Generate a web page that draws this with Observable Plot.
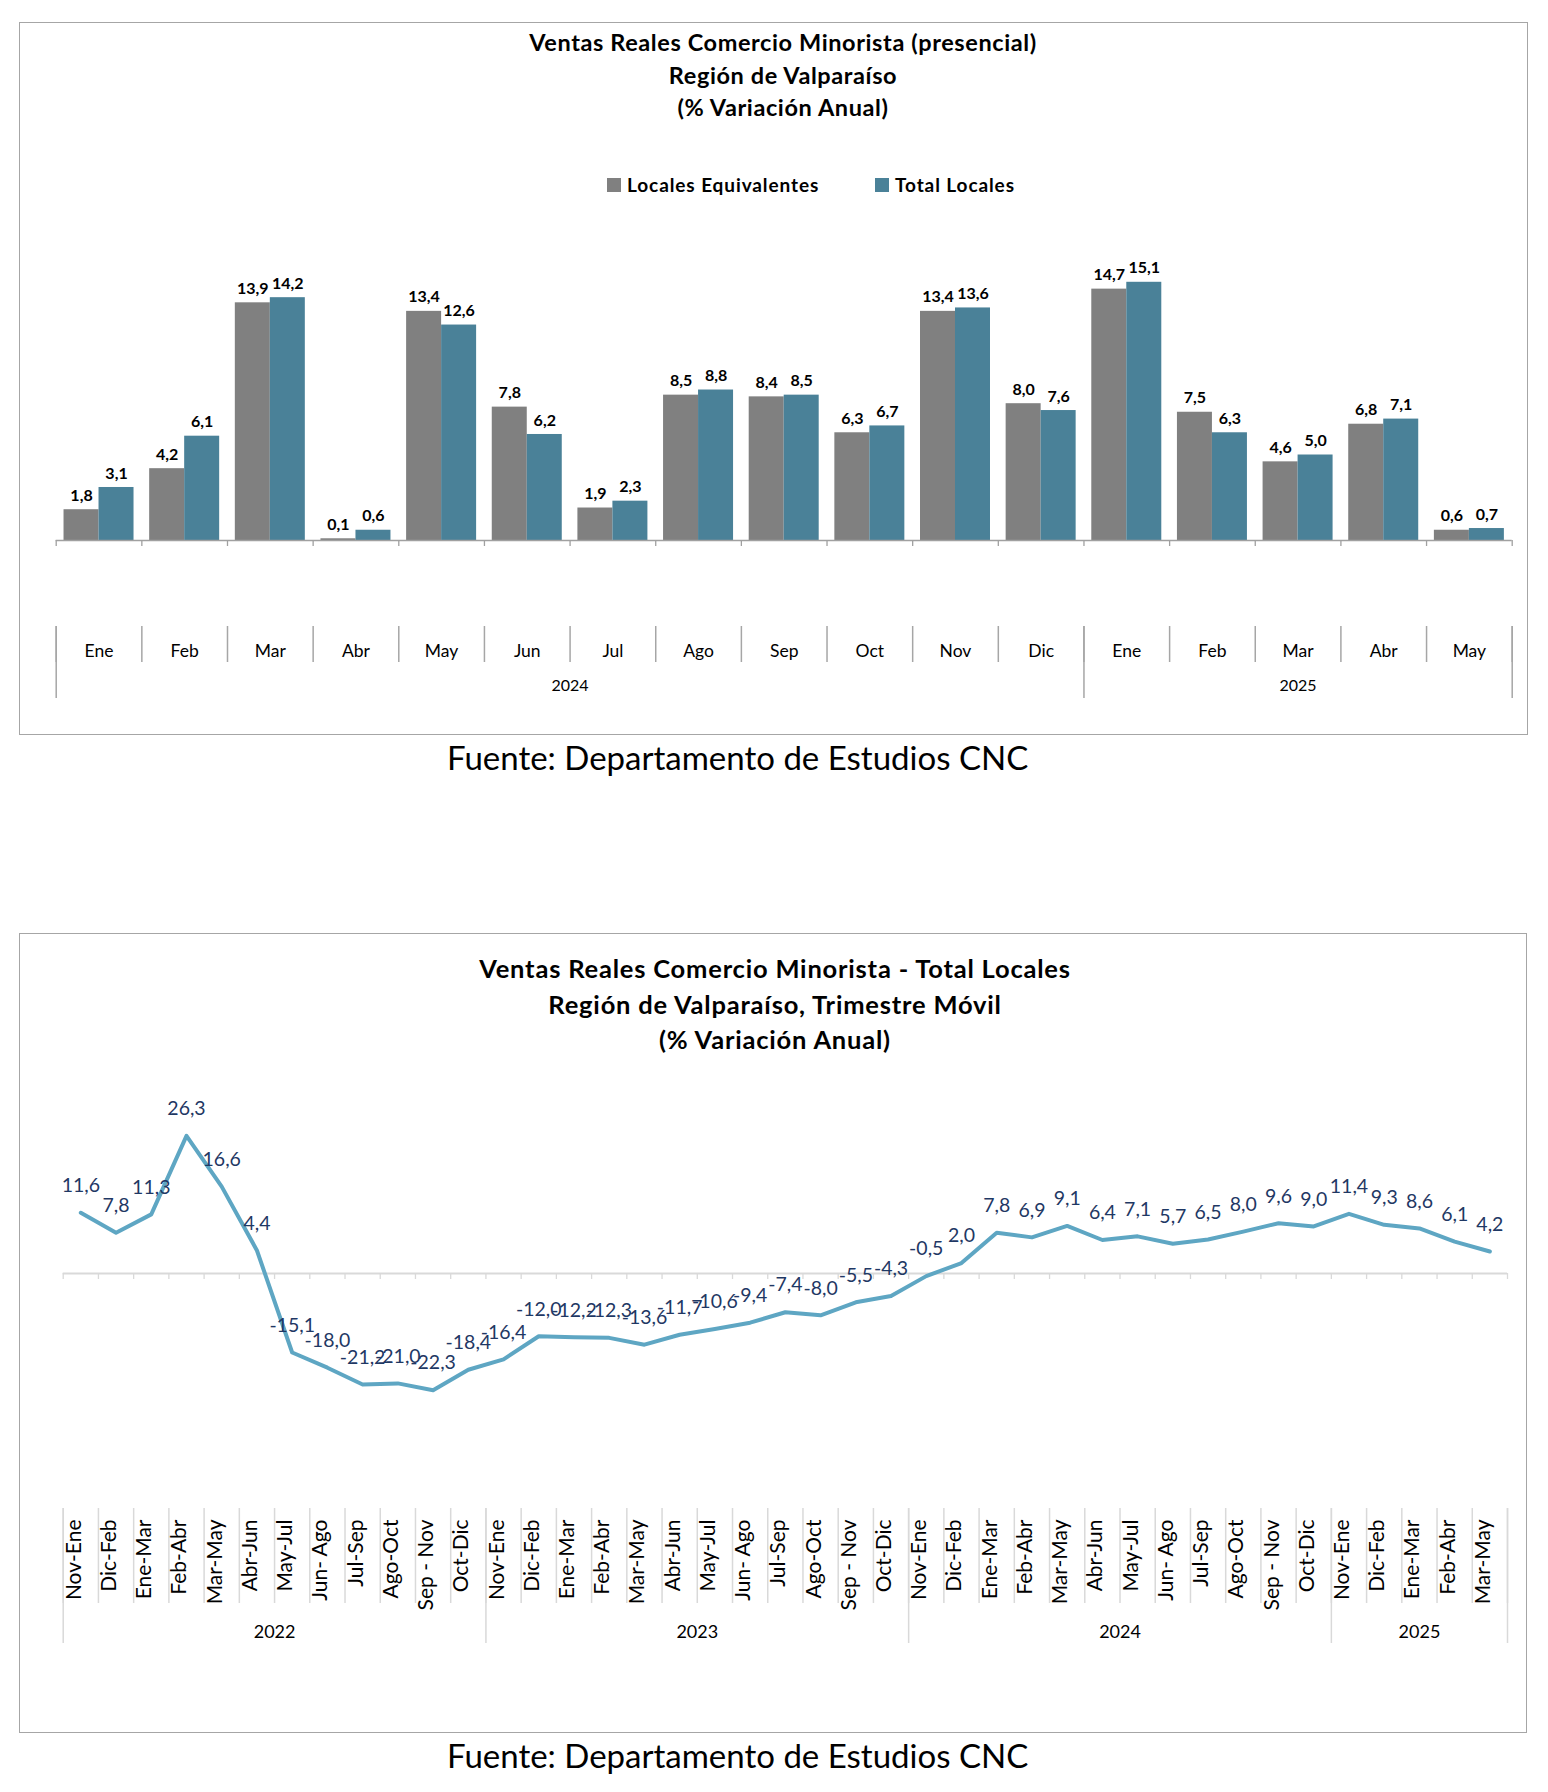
<!DOCTYPE html>
<html>
<head>
<meta charset="utf-8">
<script src="https://cdn.jsdelivr.net/npm/d3@7"></script>
<script src="https://cdn.jsdelivr.net/npm/@observablehq/plot@0.6"></script>
<style>
  body { margin: 0; background: #fff; font-family: Lato, "Open Sans", sans-serif; }
  #page { position: relative; width: 1548px; height: 1792px; overflow: hidden; }
  .box { position: absolute; border: 1.5px solid #a6a6a6; box-sizing: border-box; }
  .title { position: absolute; text-align: center; font-weight: bold; color: #000; white-space: nowrap; }
  .legend-item { position: absolute; display: flex; align-items: center; font-weight: bold; font-size: 19px; letter-spacing: 0.9px; color: #000; white-space: nowrap; }
  .swatch { width: 14px; height: 14px; margin-right: 6px; display: inline-block; }
  .source { position: absolute; font-size: 33px; color: #000; white-space: nowrap; }
  .plot { position: absolute; }
</style>
</head>
<body>
<div id="page">
  <div class="box" style="left:19px;top:22px;width:1509px;height:713px;"></div>
  <div class="title" style="left:383px;width:800px;top:26px;font-size:23.5px;letter-spacing:0.6px;line-height:32.6px;">
    Ventas Reales Comercio Minorista (presencial)<br>Región de Valparaíso<br>(% Variación Anual)
  </div>
  <div class="legend-item" style="left:607px;top:173px;"><span class="swatch" style="background:#808080"></span>Locales Equivalentes</div>
  <div class="legend-item" style="left:875px;top:173px;"><span class="swatch" style="background:#4A8198"></span>Total Locales</div>
  <div id="chart1" class="plot" style="left:19px;top:200px;"></div>
  <div class="source" style="left:447px;top:737px;">Fuente: Departamento de Estudios CNC</div>

  <div class="box" style="left:19px;top:933px;width:1508px;height:800px;"></div>
  <div class="title" style="left:375px;width:800px;top:951px;font-size:25.5px;letter-spacing:0.8px;line-height:35.5px;">
    Ventas Reales Comercio Minorista - Total Locales<br>Región de Valparaíso, Trimestre Móvil<br>(% Variación Anual)
  </div>
  <div id="chart2" class="plot" style="left:19px;top:1070px;"></div>
  <div class="source" style="left:447px;top:1735px;">Fuente: Departamento de Estudios CNC</div>
</div>
<script>
// ---------- Data: chart 1 (monthly) ----------
const months1 = ["Ene","Feb","Mar","Abr","May","Jun","Jul","Ago","Sep","Oct","Nov","Dic","Ene","Feb","Mar","Abr","May"];
const years1 = ["2024","2024","2024","2024","2024","2024","2024","2024","2024","2024","2024","2024","2025","2025","2025","2025","2025"];
const localesEquivalentes = [1.8, 4.2, 13.9, 0.1, 13.4, 7.8, 1.9, 8.5, 8.4, 6.3, 13.4, 8.0, 14.7, 7.5, 4.6, 6.8, 0.6];
const totalLocales = [3.1, 6.1, 14.2, 0.6, 12.6, 6.2, 2.3, 8.8, 8.5, 6.7, 13.6, 7.6, 15.1, 6.3, 5.0, 7.1, 0.7];

// ---------- Data: chart 2 (rolling quarter) ----------
const periodNames = ["Nov-Ene","Dic-Feb","Ene-Mar","Feb-Abr","Mar-May","Abr-Jun","May-Jul","Jun- Ago","Jul-Sep","Ago-Oct","Sep - Nov","Oct-Dic"];
const periodYears = ["2022","2023","2024","2025"];
const periodCounts = [12, 12, 12, 5];
const trimestreMovil = [11.6, 7.8, 11.3, 26.3, 16.6, 4.4, -15.1, -18.0, -21.2, -21.0, -22.3, -18.4,
                        -16.4, -12.0, -12.2, -12.3, -13.6, -11.7, -10.6, -9.4, -7.4, -8.0, -5.5, -4.3,
                        -0.5, 2.0, 7.8, 6.9, 9.1, 6.4, 7.1, 5.7, 6.5, 8.0, 9.6, 9.0,
                        11.4, 9.3, 8.6, 6.1, 4.2];

const fmt = v => v.toFixed(1).replace(".", ",");

// group consecutive equal years; label key = middle band (odd count) or band left of middle boundary (even count)
function yearGroups(keys, years) {
  const groups = [];
  years.forEach((y, i) => {
    if (!groups.length || groups[groups.length - 1].year !== y) groups.push({year: y, first: i, n: 0});
    groups[groups.length - 1].n++;
  });
  return groups.map(g => {
    const odd = g.n % 2 === 1;
    return {year: g.year, start: keys[g.first], key: keys[g.first + (odd ? (g.n - 1) / 2 : g.n / 2 - 1)], odd};
  });
}

function categoryAxis(keys, groups, bw, opts) {
  const {sepTop, sepBottom, color, sepWidth} = opts;
  const lastKey = [keys[keys.length - 1]];
  return [
    Plot.ruleY([0], {stroke: opts.zeroColor, strokeWidth: opts.zeroWidth}),
    Plot.ruleX(keys, {x: d => d, y1: 0, y2: 0, insetBottom: -6, dx: -bw / 2, stroke: opts.zeroColor, strokeWidth: 1.3}),
    Plot.ruleX(lastKey, {x: d => d, y1: 0, y2: 0, insetBottom: -6, dx: bw / 2, stroke: opts.zeroColor, strokeWidth: 1.3}),
    Plot.ruleX(keys, {x: d => d, dx: -bw / 2, insetTop: sepTop, insetBottom: sepBottom, stroke: color, strokeWidth: sepWidth}),
    Plot.ruleX(lastKey, {x: d => d, dx: bw / 2, insetTop: sepTop, insetBottom: sepBottom, stroke: color, strokeWidth: sepWidth}),
    Plot.ruleX(groups, {x: "start", dx: -bw / 2, insetTop: sepTop, stroke: color, strokeWidth: sepWidth}),
    Plot.ruleX(lastKey, {x: d => d, dx: bw / 2, insetTop: sepTop, stroke: color, strokeWidth: sepWidth}),
    Plot.text(groups.filter(g => g.odd), {x: "key", text: "year", frameAnchor: "bottom", dy: opts.yearDy, fontSize: opts.yearSize, fill: "#000"}),
    Plot.text(groups.filter(g => !g.odd), {x: "key", text: "year", frameAnchor: "bottom", dx: bw / 2, dy: opts.yearDy, fontSize: opts.yearSize, fill: "#000"})
  ];
}

// ---------- Chart 1 ----------
{
  const W = 1508, H = 530, ml = 36.7, mr = 15.3, mt = 20, mb = 32;
  const keys = months1.map((m, i) => i);
  const rows = keys.map(i => ({key: i, month: months1[i], year: years1[i], le: localesEquivalentes[i], tl: totalLocales[i]}));
  const bw = (W - ml - mr) / keys.length;
  const barW = 35, outer = (bw - 2 * barW) / 2;
  const groups = yearGroups(keys, years1);
  const zeroY = 340, pxPerUnit = 17.1;
  const chart = Plot.plot({
    width: W, height: H, marginLeft: ml, marginRight: mr, marginTop: mt, marginBottom: mb,
    style: {fontFamily: "Lato, sans-serif", background: "transparent", overflow: "visible"},
    x: {type: "band", domain: keys, padding: 0, round: false, axis: null},
    y: {domain: [0, 18], range: [zeroY, zeroY - 18 * pxPerUnit], axis: null},
    marks: [
      Plot.barY(rows, {x: "key", y: "le", fill: "#808080", insetLeft: outer, insetRight: bw - outer - barW}),
      Plot.barY(rows, {x: "key", y: "tl", fill: "#4A8198", insetLeft: outer + barW, insetRight: outer}),
      Plot.text(rows, {x: "key", y: "le", text: d => fmt(d.le), dx: -barW / 2, dy: -14, fontWeight: "bold", fontSize: 16, fill: "#000"}),
      Plot.text(rows, {x: "key", y: "tl", text: d => fmt(d.tl), dx: barW / 2, dy: -14, fontWeight: "bold", fontSize: 16, fill: "#000"}),
      ...categoryAxis(keys, groups, bw, {sepTop: 406, sepBottom: 36, color: "#a6a6a6", sepWidth: 1.5,
        zeroColor: "#a0a0a0", zeroWidth: 1.5, yearDy: -8, yearSize: 16}),
      Plot.text(rows, {x: "key", text: "month", frameAnchor: "bottom", dy: -42, fontSize: 17.5, fill: "#000"})
    ]
  });
  document.getElementById("chart1").append(chart);
}

// ---------- Chart 2 ----------
{
  const W = 1508, H = 655, ml = 43.7, mr = 20, mt = 20, mb = 82;
  const names = [], yrs = [];
  periodYears.forEach((y, j) => { for (let k = 0; k < periodCounts[j]; k++) { names.push(periodNames[k]); yrs.push(y); } });
  const keys = names.map((n, i) => i);
  const rows = keys.map(i => ({key: i, name: names[i], year: yrs[i], v: trimestreMovil[i]}));
  const bw = (W - ml - mr) / keys.length;
  const groups = yearGroups(keys, yrs);
  const zeroY = 203, pxPerUnit = 5.233;
  const chart = Plot.plot({
    width: W, height: H, marginLeft: ml, marginRight: mr, marginTop: mt, marginBottom: mb,
    style: {fontFamily: "Lato, sans-serif", background: "transparent", overflow: "visible"},
    x: {type: "band", domain: keys, padding: 0, round: false, axis: null},
    y: {domain: [-30, 30], range: [zeroY + 30 * pxPerUnit, zeroY - 30 * pxPerUnit], axis: null},
    marks: [
      ...categoryAxis(keys, groups, bw, {sepTop: 418, sepBottom: 40, color: "#d9d9d9", sepWidth: 1.5,
        zeroColor: "#d9d9d9", zeroWidth: 2, yearDy: -6, yearSize: 18}),
      Plot.lineY(rows, {x: "key", y: "v", stroke: "#5EA6C3", strokeWidth: 4, strokeLinejoin: "round"}),
      Plot.text(rows, {x: "key", y: "v", text: d => fmt(d.v), dy: -27, fontSize: 19.5, fill: "#1F3864"}),
      Plot.text(rows, {x: "key", text: "name", rotate: -90, textAnchor: "end", frameAnchor: "bottom", dy: -124, fontSize: 21, fill: "#000"})
    ]
  });
  document.getElementById("chart2").append(chart);
}
</script>
</body>
</html>
